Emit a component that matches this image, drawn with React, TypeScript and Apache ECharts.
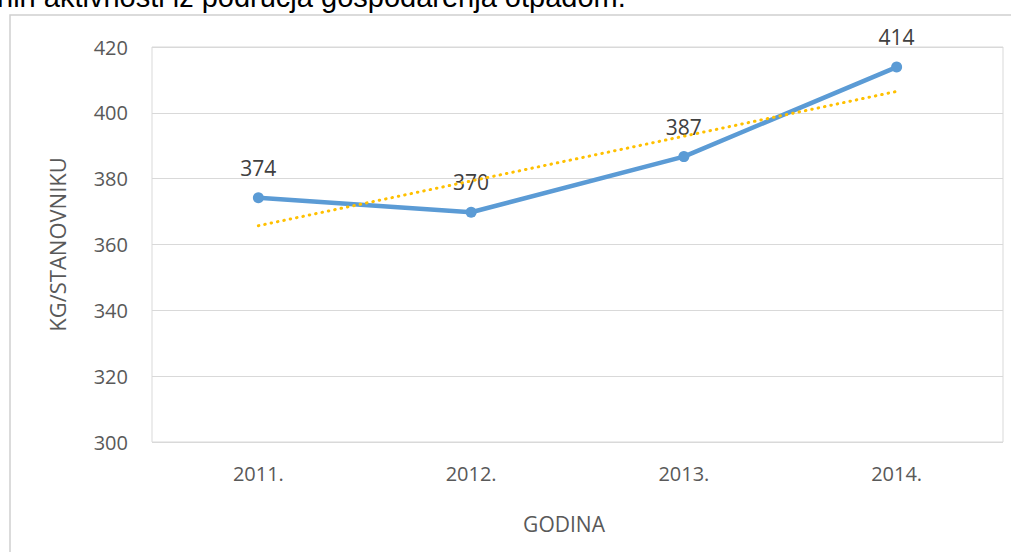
import React, { useEffect, useRef } from "react";
import * as echarts from "echarts";

const years = ["2011.", "2012.", "2013.", "2014."];
const kgPerCapita = [374.2, 369.8, 386.7, 413.9];
const trendValues = [365.7, 379.3, 392.9, 406.5];
const yTicks = [300, 320, 340, 360, 380, 400, 420];
const yAxisTitle = "KG/STANOVNIKU";
const xAxisTitle = "GODINA";
const topText = "nih aktivnosti iz područja gospodarenja otpadom.";

export default function App() {
  const ref = useRef<HTMLDivElement>(null);
  useEffect(() => {
    document.body.style.margin = "0";
    const chart = echarts.init(ref.current!, null, { renderer: "svg" });
    const font = "'Open Sans', 'DejaVu Sans', sans-serif";
    chart.setOption({
      animation: false,
      backgroundColor: "#ffffff",
      grid: {
        left: 152,
        right: 1011 - 1003,
        top: 47,
        bottom: 552 - 442,
        show: true,
        borderColor: "#d9d9d9",
        borderWidth: 1,
      },
      xAxis: {
        type: "category",
        data: years,
        boundaryGap: true,
        axisLine: { show: false },
        axisTick: { show: false },
        axisLabel: {
          color: "#595959",
          fontSize: 20,
          fontFamily: font,
          margin: 21,
        },
      },
      yAxis: {
        type: "value",
        min: yTicks[0],
        max: yTicks[yTicks.length - 1],
        interval: 20,
        name: yAxisTitle,
        nameLocation: "middle",
        nameGap: 84,
        nameTextStyle: { color: "#595959", fontSize: 22, fontFamily: font },
        axisLine: { show: false },
        axisTick: { show: false },
        splitLine: { lineStyle: { color: "#d9d9d9", width: 1 } },
        axisLabel: {
          color: "#595959",
          fontSize: 20,
          fontFamily: font,
          margin: 24,
        },
      },
      graphic: [
        {
          type: "rect",
          shape: { x: 10, y: 15, width: 1100, height: 700 },
          style: { fill: "none", stroke: "#d0d0d0", lineWidth: 1.5 },
          silent: true,
        },
        {
          type: "text",
          x: -3,
          y: 11,
          style: {
            text: topText,
            fontSize: 29,
            fontFamily: "'Liberation Sans', Arial, sans-serif",
            fill: "#000000",
            verticalAlign: "bottom",
          },
        },
        {
          type: "text",
          x: 564,
          y: 524,
          style: {
            text: xAxisTitle,
            fontSize: 21,
            fontFamily: font,
            fill: "#595959",
            align: "center",
            verticalAlign: "middle",
          },
        },
      ],
      series: [
        {
          type: "line",
          data: trendValues,
          symbol: "none",
          lineStyle: { color: "#FFC000", width: 3, type: [0.5, 6], cap: "round" },
          z: 3,
          silent: true,
        },
        {
          type: "line",
          data: kgPerCapita,
          symbol: "circle",
          symbolSize: 11,
          itemStyle: { color: "#5B9BD5" },
          lineStyle: { color: "#5B9BD5", width: 4.5 },
          z: 2,
          label: {
            show: true,
            position: "top",
            distance: 14,
            color: "#404040",
            fontSize: 21,
            fontFamily: font,
            formatter: (p: any) => Math.round(p.value).toString(),
          },
        },
      ],
    });
    return () => chart.dispose();
  }, []);
  return (
    <div
      ref={ref}
      style={{ position: "absolute", left: 0, top: 0, width: 1011, height: 552 }}
    />
  );
}
